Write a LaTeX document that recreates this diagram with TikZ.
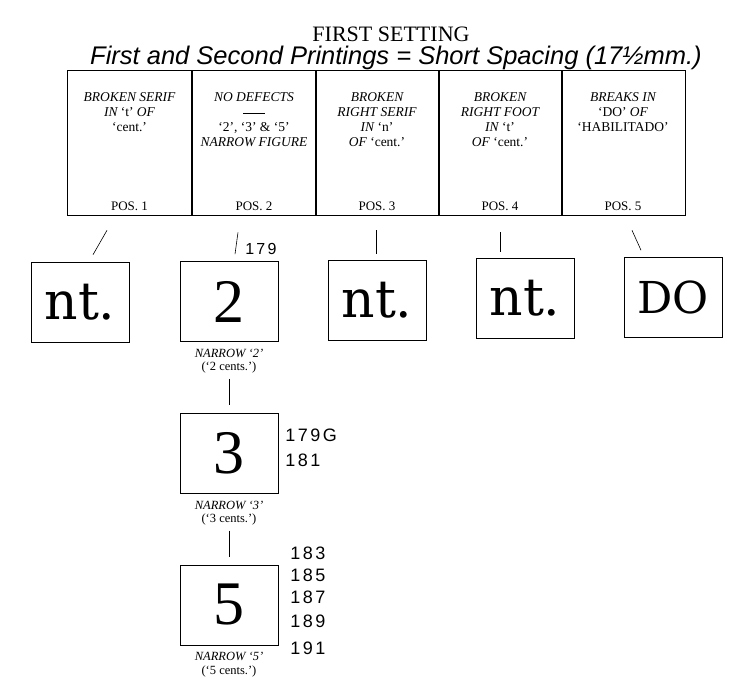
\documentclass[tikz,border=0pt]{standalone}
\usepackage{fontspec}
\setmainfont{Liberation Serif}
\newfontfamily\glyphfont{DejaVu Serif}
\newfontfamily\handfont{Liberation Sans}
\newfontfamily\notefont{Liberation Sans}[LetterSpace=14]
\usetikzlibrary{positioning}
\tikzset{cell/.style={draw, minimum width=124pt, minimum height=145pt, inner sep=0pt},
 desc/.style={font=\fontsize{13.5}{14.7}\selectfont\itshape, align=center, inner sep=0pt},
 posnum/.style={font=\fontsize{13}{14}\selectfont, inner sep=0pt},
 stamp/.style={draw, minimum width=98pt, minimum height=80pt, inner sep=0pt},
 letters/.style={font=\fontsize{52}{52}\selectfont\glyphfont},
 figure/.style={font=\fontsize{62}{62}\selectfont},
 caption/.style={font=\fontsize{12.5}{13.5}\selectfont, align=center, inner sep=0pt},
 hand/.style={font=\fontsize{18}{20}\selectfont\notefont, inner sep=0pt, anchor=west},
}

\begin{document}
\begin{tikzpicture}[x=1pt, y=-1pt, line width=0.6pt]
        \useasboundingbox (0,0) rectangle (756,696);
        \node[font=\fontsize{22}{22}\selectfont] (title) at (391,34) {FIRST SETTING};
        \node[font=\fontsize{25.5}{25.5}\selectfont\handfont\itshape] (printings) at (396,58)
            {First and Second Printings = Short Spacing (17\textonehalf mm.)};
        % positions
        \node[cell] (pos1) at (129.5,142.5) {};
        \node[cell] (pos2) at (254,142.5) {};
        \node[cell] (pos3) at (377,142.5) {};
        \node[cell] (pos4) at (500,142.5) {};
        \node[cell] (pos5) at (623,142.5) {};
        \node[desc, below=23pt of pos1.north] (desc1) {BROKEN SERIF\\IN {\upshape`t'} OF\\{\upshape`cent.'}};
        \node[desc, below=23pt of pos2.north] (desc2) {NO DEFECTS\\\rule[3pt]{22pt}{0.4pt}\\{\upshape`2', `3' \& `5'}\\NARROW FIGURE};
        \node[desc, below=23pt of pos3.north] (desc3) {BROKEN\\RIGHT SERIF\\IN {\upshape`n'}\\OF {\upshape`cent.'}};
        \node[desc, below=23pt of pos4.north] (desc4) {BROKEN\\RIGHT FOOT\\IN {\upshape`t'}\\OF {\upshape`cent.'}};
        \node[desc, below=23pt of pos5.north] (desc5) {BREAKS IN\\{\upshape`DO'} OF\\{\upshape`HABILITADO'}};
        \node[posnum, above=4pt of pos1.south] (num1) {POS.\ 1};
        \node[posnum, above=4pt of pos2.south] (num2) {POS.\ 2};
        \node[posnum, above=4pt of pos3.south] (num3) {POS.\ 3};
        \node[posnum, above=4pt of pos4.south] (num4) {POS.\ 4};
        \node[posnum, above=4pt of pos5.south] (num5) {POS.\ 5};
        % stamps
        \node[stamp, letters] (img1) at (80,302) {nt.};
        \node[stamp, figure] (img2) at (229,301.5) {2};
        \node[stamp, letters] (img3) at (377,300.5) {nt.};
        \node[stamp, letters] (img4) at (525,298.5) {nt.};
        \node[stamp, font=\fontsize{44}{44}\selectfont\glyphfont] (img5) at (673,297.5) {DO};
        \draw ([xshift=-22.5pt,yshift=-15pt]pos1.south) -- ([xshift=13pt,yshift=7pt]img1.north);
        \draw ([xshift=-16pt,yshift=-17pt]pos2.south) -- ([xshift=6pt,yshift=7pt]img2.north);
        \draw ([xshift=-1pt,yshift=-15pt]pos3.south) -- ([xshift=-1pt,yshift=6pt]img3.north);
        \draw ([yshift=-17pt]pos4.south) -- ([xshift=-25pt,yshift=6pt]img4.north);
        \draw ([xshift=9pt,yshift=-15pt]pos5.south) -- ([xshift=-32pt,yshift=7pt]img5.north);
        % narrow figures
        \node[caption, below=7pt of img2] (cap2) {\itshape NARROW `2'\\(`2 cents.')};
        \node[stamp, figure, below=39pt of cap2] (nar3) {3};
        \node[caption, below=7pt of nar3] (cap3) {\itshape NARROW `3'\\(`3 cents.')};
        \node[stamp, figure, below=39pt of cap3] (nar5) {5};
        \node[caption, below=7pt of nar5] (cap5) {\itshape NARROW `5'\\(`5 cents.')};
        \draw[shorten <=5pt, shorten >=8pt] (cap2.south) -- (nar3.north);
        \draw[shorten <=5pt, shorten >=8pt] (cap3.south) -- (nar5.north);
        % pencil notes
        \node[hand, font=\fontsize{16}{16}\selectfont\notefont] (note179) at (245,249) {179};
        \node[hand] (note179g) at (285,435) {179G};
        \node[hand] (note181) at (285,460) {181};
        \node[hand] (note183) at (290,553) {183};
        \node[hand] (note185) at (290,575) {185};
        \node[hand] (note187) at (290,597) {187};
        \node[hand] (note189) at (290,621) {189};
        \node[hand] (note191) at (290,648) {191};
    \end{tikzpicture}
\end{document}
